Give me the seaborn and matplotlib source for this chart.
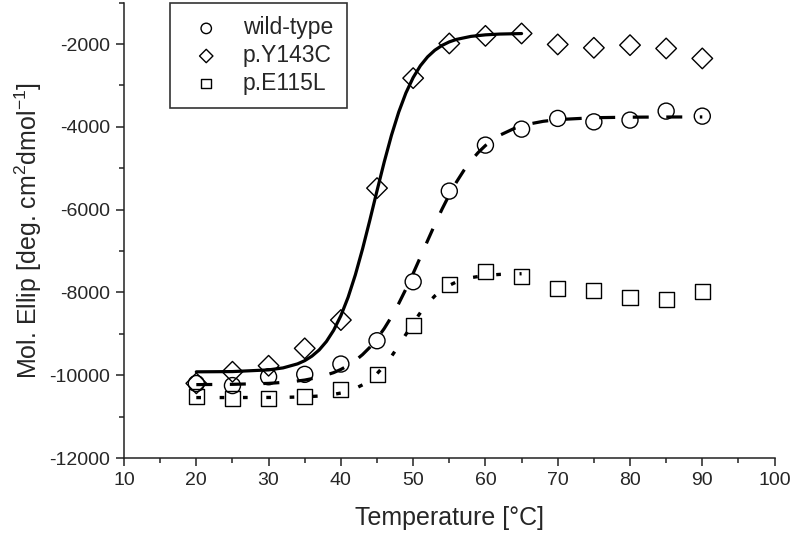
import matplotlib
matplotlib.use("Agg")
import matplotlib.pyplot as plt
from matplotlib.ticker import MultipleLocator
import seaborn as sns

# measured points
temps = [20, 25, 30, 35, 40, 45, 50, 55, 60, 65, 70, 75, 80, 85, 90]
wild_type = [-10200, -10250, -10037, -9979, -9730, -9167, -7742, -5552,
             -4441, -4055, -3796, -3879, -3837, -3620, -3741]
y143c = [-10196, -9916, -9771, -9351, -8667, -5480, -2823, -1985,
         -1802, -1744, -2009, -2090, -2026, -2106, -2347]
e115l = [-10520, -10560, -10560, -10520, -10334, -9979, -8788, -7805,
         -7501, -7605, -7902, -7943, -8129, -8160, -7984]

# fitted curves
fit_t_y143c = [20, 25, 30, 32, 34, 35, 36, 37, 38, 39, 40, 41, 42, 43, 44, 45,
               46, 47, 48, 49, 50, 51, 52, 53, 54, 55, 56, 58, 60, 62, 65]
fit_y143c = [-9918, -9912, -9871, -9823, -9726, -9648, -9538, -9389, -9185,
             -8914, -8562, -8117, -7576, -6948, -6259, -5543, -4846, -4203,
             -3644, -3179, -2809, -2523, -2308, -2148, -2032, -1947, -1887,
             -1814, -1777, -1758, -1746]

fit_t_wild = [20, 25, 30, 33, 35, 37, 39, 40, 41, 42, 43, 44, 45, 46, 47, 48,
              49, 50, 51, 52, 53, 54, 55, 56, 57, 58, 59, 60, 62, 64, 66, 68,
              70, 75, 80, 85, 90]
fit_wild = [-10227, -10220, -10197, -10161, -10117, -10048, -9937, -9860,
            -9765, -9646, -9501, -9327, -9117, -8871, -8588, -8269, -7917,
            -7540, -7147, -6748, -6358, -5986, -5641, -5330, -5056, -4819,
            -4619, -4451, -4201, -4037, -3932, -3866, -3825, -3779, -3766,
            -3762, -3760]

fit_t_e115l = [20, 25, 30, 33, 35, 37, 39, 40, 41, 42, 43, 44, 45, 46, 47, 48,
               49, 50, 51, 52, 53, 54, 55, 56, 57, 58, 60, 62, 65]
fit_e115l = [-10540, -10539, -10537, -10531, -10522, -10503, -10463, -10430,
             -10384, -10320, -10232, -10115, -9962, -9771, -9544, -9286,
             -9012, -8741, -8488, -8267, -8084, -7939, -7828, -7745, -7685,
             -7642, -7590, -7564, -7548]

sns.set_style("ticks")
plt.rcParams['font.family'] = ['Liberation Sans', 'DejaVu Sans']
plt.rcParams['mathtext.fontset'] = 'custom'
plt.rcParams['mathtext.rm'] = 'Liberation Sans'
plt.rcParams['axes.unicode_minus'] = False

fig, ax = plt.subplots(figsize=(7.92, 5.36), dpi=100)
fig.subplots_adjust(left=0.1566, right=0.978, bottom=0.1455, top=0.995)

# fit lines
sns.lineplot(x=fit_t_y143c, y=fit_y143c, ax=ax, color='black', linewidth=2.3,
             linestyle='-', zorder=3)
sns.lineplot(x=fit_t_wild, y=fit_wild, ax=ax, color='black', linewidth=2.3,
             linestyle=(0, (5, 5.5)), zorder=3)
sns.lineplot(x=fit_t_e115l, y=fit_e115l, ax=ax, color='black', linewidth=2.4,
             linestyle=(0, (1.4, 5.6)), zorder=3)

# open markers
sns.scatterplot(x=temps, y=wild_type, ax=ax, marker='o', s=133, color='black',
                facecolors='none', edgecolor='black', linewidth=1.0,
                label='wild-type', zorder=2)
sns.scatterplot(x=temps, y=y143c, ax=ax, marker='D', s=110, color='black',
                facecolors='none', edgecolor='black', linewidth=1.0,
                label='p.Y143C', zorder=2)
sns.scatterplot(x=temps, y=e115l, ax=ax, marker='s', s=117, color='black',
                facecolors='none', edgecolor='black', linewidth=1.0,
                label='p.E115L', zorder=2)

ax.set_xlim(10, 100)
ax.set_ylim(-12000, -1000)
ax.xaxis.set_major_locator(MultipleLocator(10))
ax.xaxis.set_minor_locator(MultipleLocator(5))
ax.set_yticks(range(-12000, -1999, 2000))
ax.yaxis.set_minor_locator(MultipleLocator(1000))
ax.tick_params(which='major', length=6, width=1.1, labelsize=14, pad=4, color='#222222')
ax.tick_params(which='minor', length=3.5, width=1.1, color='#222222')
for side in ['left', 'bottom']:
    ax.spines[side].set_linewidth(1.1)
    ax.spines[side].set_color('#222222')
sns.despine(ax=ax)

ax.set_xlabel('Temperature [°C]', fontsize=18, labelpad=12)
ax.set_ylabel('Mol. Ellip [deg. cm$^{2}$dmol$^{-1}$]', fontsize=18, labelpad=4)

leg = ax.legend(loc='upper left', bbox_to_anchor=(0.07, 1.0), borderaxespad=0,
                fontsize=16.5, markerscale=0.65, frameon=True, fancybox=False,
                handletextpad=0.6, labelspacing=0.2, borderpad=0.6)
leg.get_frame().set_edgecolor('black')
leg.get_frame().set_linewidth(1.2)

fig.savefig('out.png', dpi=100)
